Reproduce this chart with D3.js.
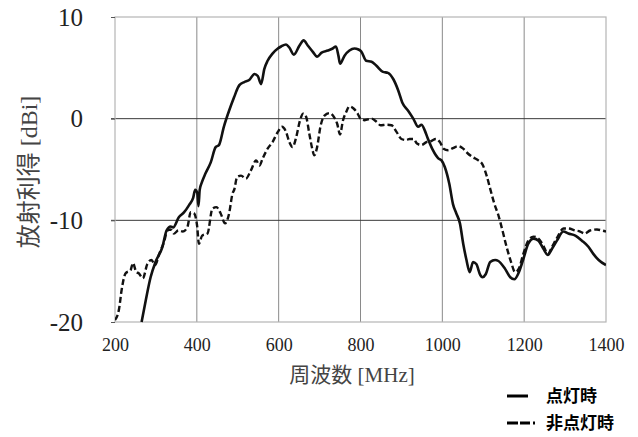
<!DOCTYPE html>
<html><head><meta charset="utf-8">
<script src="https://cdn.jsdelivr.net/npm/d3@7"></script>
<style>
html,body{margin:0;padding:0;background:#fff;}
svg{display:block;}
</style></head>
<body>
<svg id="c" width="638" height="437"></svg>
<script>
// ---- data ----
const xTicks = [200, 400, 600, 800, 1000, 1200, 1400];
const yTicks = [10, 0, -10, -20];
const seriesNames = ["点灯時", "非点灯時"];

const onFreq = [265,275,287,299,316,326,336,342,356,369,381,391,396,401,404,407,412,421,434,446,454,466,479,491,501,504,516,528,541,549,557,565,573,585,598,606,618,626,637,651,661,671,683,694,705,720,732,740,746,750,761,773,785,795,802,814,827,839,855,867,880,892,902,916,929,941,949,957,965,977,990,998,1006,1017,1026,1034,1043,1051,1059,1067,1075,1083,1093,1098,1106,1117,1129,1137,1153,1166,1176,1186,1198,1210,1223,1235,1247,1258,1268,1280,1296,1308,1325,1341,1357,1369,1382,1400];
const onGain = [-20,-17.9,-15.6,-14.1,-12.6,-11.0,-10.6,-10.7,-9.7,-9.2,-8.5,-7.8,-7.0,-7.3,-8.6,-7.0,-6.3,-5.4,-4.3,-2.8,-2.6,-0.8,0.8,2.1,3.1,3.3,3.6,3.8,4.4,4.2,3.4,4.9,5.7,6.4,6.9,7.1,7.3,7.0,6.3,7.2,7.7,7.2,6.6,6.1,6.5,6.7,6.9,7.1,6.2,5.4,6.2,6.7,6.9,6.8,6.6,5.7,5.6,5.2,4.6,4.5,3.9,2.8,1.6,0.8,0.0,-0.8,-0.6,-1.15,-2.0,-3.1,-3.9,-4.1,-4.75,-6.4,-8.4,-9.3,-10.3,-12.3,-13.9,-15.1,-14.1,-14.3,-15.4,-15.6,-15.3,-14.1,-13.9,-14.0,-14.75,-15.6,-15.8,-15.2,-13.8,-12.3,-11.8,-12.0,-12.8,-13.4,-12.8,-12.0,-11.1,-11.3,-11.5,-12.0,-12.6,-13.3,-13.9,-14.4];

const offFreq = [200,210,216,226,238,244,252,258,268,279,289,298,308,320,328,336,344,355,366,377,385,393,401,405,413,426,438,448,458,469,479,487,492,497,500,508,520,532,545,553,561,573,585,598,608,618,626,634,643,652,660,667,675,682,687,694,702,712,724,736,743,750,757,765,773,783,793,800,810,827,839,849,863,876,888,900,911,920,930,938,949,961,973,984,994,1003,1014,1026,1039,1051,1063,1075,1088,1098,1109,1117,1127,1137,1147,1157,1168,1178,1187,1198,1210,1223,1235,1247,1258,1268,1282,1296,1308,1325,1337,1348,1361,1378,1390,1400];
const offGain = [-19.8,-18.7,-16.9,-15.2,-14.9,-14.2,-15.1,-15.2,-15.7,-14.3,-13.9,-14.4,-13.3,-12.1,-11.0,-10.9,-11.3,-11.0,-11.1,-10.65,-9.2,-9.3,-10.65,-12.3,-11.5,-11.3,-8.85,-8.7,-9.3,-10.3,-9.3,-7.4,-6.9,-5.9,-5.7,-5.6,-5.9,-5.1,-4.1,-4.6,-3.9,-2.95,-2.3,-1.3,-0.8,-1.3,-2.3,-2.8,-1.8,-0.2,0.5,0.2,-1.5,-2.95,-3.6,-2.8,-0.8,0.3,0.55,0.1,-0.5,-1.55,-0.2,0.65,1.2,1.0,0.5,0.0,-0.15,0.0,-0.3,-0.65,-0.6,-0.65,-1.3,-2.0,-2.1,-2.0,-2.0,-2.45,-2.6,-2.3,-2.2,-2.0,-2.3,-2.95,-3.1,-2.9,-2.7,-2.95,-3.45,-3.8,-4.1,-4.5,-5.7,-6.9,-8.35,-9.5,-11.0,-12.6,-14.1,-15.1,-14.75,-13.3,-12.0,-11.6,-11.8,-12.5,-13.3,-12.6,-11.6,-10.8,-10.8,-11.0,-11.1,-11.3,-11.0,-10.9,-11.0,-11.1];

// ---- layout ----
const W = 638, H = 437;
const m = {left: 115, right: 32, top: 17, bottom: 115};
const svg = d3.select("#c");
const x = d3.scaleLinear().domain([200, 1400]).range([m.left, W - m.right]);
const y = d3.scaleLinear().domain([-20, 10]).range([H - m.bottom, m.top]);

const serif = "'Liberation Serif','Times New Roman','Noto Sans CJK JP',serif";

// grid: vertical
svg.append("g").selectAll("line").data(xTicks.slice(1, -1)).join("line")
  .attr("x1", d => x(d)).attr("x2", d => x(d))
  .attr("y1", y(10)).attr("y2", y(-20))
  .attr("stroke", "#8a8a8a").attr("stroke-width", 1);
// grid: horizontal
svg.append("g").selectAll("line").data([0, -10]).join("line")
  .attr("x1", x(200) - 4).attr("x2", x(1400))
  .attr("y1", d => y(d)).attr("y2", d => y(d))
  .attr("stroke", "#3a3a3a").attr("stroke-width", 1);
// frame
svg.append("rect")
  .attr("x", x(200)).attr("y", y(10))
  .attr("width", x(1400) - x(200)).attr("height", y(-20) - y(10))
  .attr("fill", "none").attr("stroke", "#b5b5b5").attr("stroke-width", 1.2);

// axes (labels via d3 axis)
const yAxis = svg.append("g").attr("transform", `translate(${x(200)},0)`)
  .call(d3.axisLeft(y).tickValues(yTicks).tickSize(4).tickPadding(28).tickFormat(d => String(d)));
yAxis.select(".domain").remove();
yAxis.selectAll(".tick line").attr("stroke", "#555");
yAxis.selectAll("text").attr("font-family", serif).attr("font-size", 25).attr("fill", "#222");

const xAxis = svg.append("g").attr("transform", `translate(0,${y(-20)})`)
  .call(d3.axisBottom(x).tickValues(xTicks).tickSize(0).tickPadding(16).tickFormat(d => String(d)));
xAxis.select(".domain").remove();
xAxis.selectAll("text").attr("font-family", serif).attr("font-size", 18).attr("fill", "#222");

// axis titles
svg.append("text").attr("x", 352).attr("y", 382)
  .attr("text-anchor", "middle").attr("font-family", serif).attr("font-size", 21).attr("fill", "#444")
  .text("周波数 [MHz]");
svg.append("text").attr("transform", `translate(37,172) rotate(-90)`)
  .attr("text-anchor", "middle").attr("font-family", serif).attr("font-size", 24).attr("fill", "#444")
  .text("放射利得 [dBi]");

// lines
const line = d3.line().x(d => x(d[0])).y(d => y(d[1])).curve(d3.curveMonotoneX);
svg.append("clipPath").attr("id", "pc").append("rect")
  .attr("x", x(200)).attr("y", y(10) - 2).attr("width", x(1400) - x(200)).attr("height", y(-20) - y(10) + 3);
const onData = onFreq.map((f, i) => [f, onGain[i]]);
const offData = offFreq.map((f, i) => [f, offGain[i]]);
const g = svg.append("g").attr("clip-path", "url(#pc)");
g.append("path").datum(offData).attr("d", line)
  .attr("fill", "none").attr("stroke", "#111").attr("stroke-width", 2.4)
  .attr("stroke-dasharray", "6,3").attr("stroke-linejoin", "round");
g.append("path").datum(onData).attr("d", line)
  .attr("fill", "none").attr("stroke", "#111").attr("stroke-width", 2.6)
  .attr("stroke-linejoin", "round");

// legend
const lg = svg.append("g");
const ly = [396, 423];
lg.append("line").attr("x1", 507).attr("x2", 528).attr("y1", ly[0]).attr("y2", ly[0])
  .attr("stroke", "#000").attr("stroke-width", 3);
lg.append("line").attr("x1", 507).attr("x2", 535).attr("y1", ly[1]).attr("y2", ly[1])
  .attr("stroke", "#000").attr("stroke-width", 3).attr("stroke-dasharray", "11,2,10,3,3,9");
lg.selectAll("text").data(seriesNames).join("text")
  .attr("x", 546).attr("y", (d, i) => ly[i]).attr("dy", "0.35em")
  .attr("font-family", "'Noto Sans CJK JP',sans-serif").attr("font-size", 17).attr("font-weight", 700)
  .attr("fill", "#000").text(d => d);
</script>
</body></html>
